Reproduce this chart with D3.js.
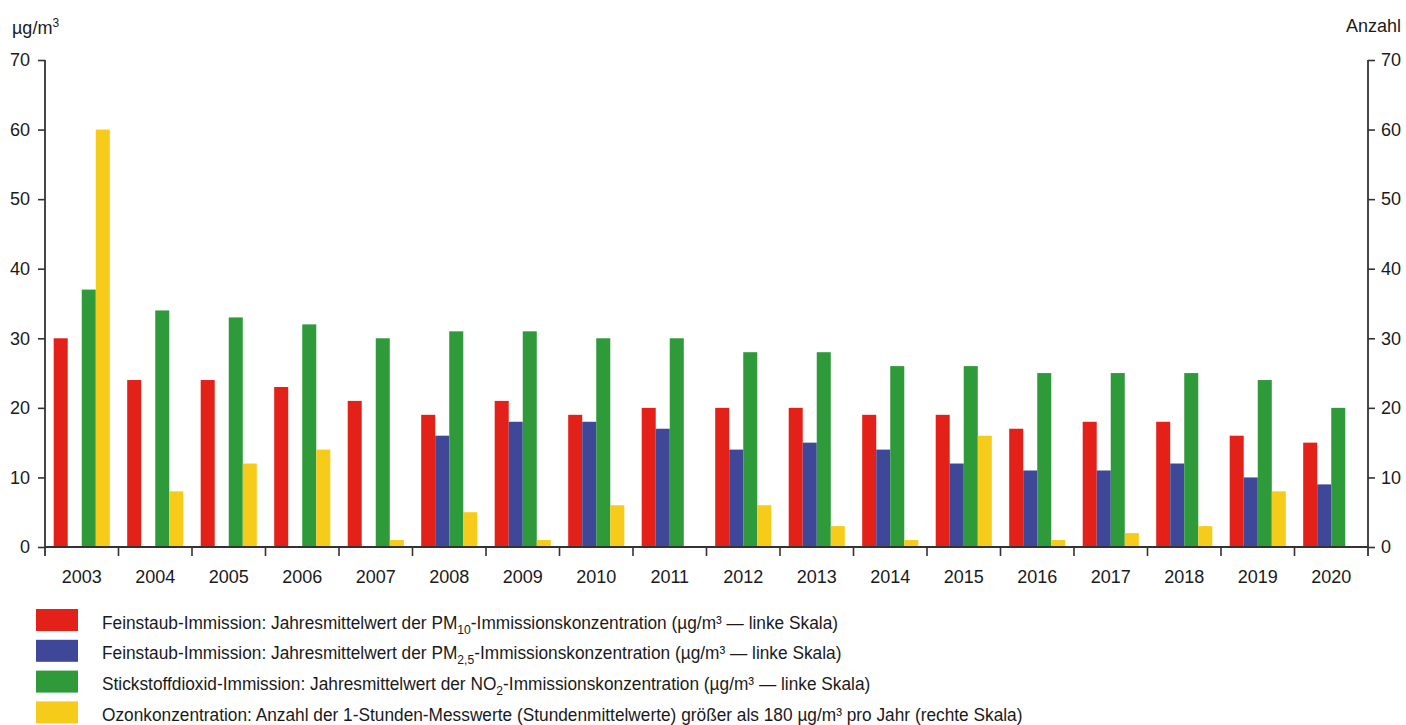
<!DOCTYPE html>
<html>
<head>
<meta charset="utf-8">
<style>
    body { margin: 0; background: #fff; }
    text { font-family: "Liberation Sans Narrow", "Arial Narrow", "Liberation Sans", Arial, sans-serif; fill: #1a1a1a; }
</style>
</head>
<body>
<svg id="container" width="1406" height="725"></svg>
<script src="https://cdn.jsdelivr.net/npm/d3@7"></script>
<script>
    // data
    let years = ["2003","2004","2005","2006","2007","2008","2009","2010","2011","2012","2013","2014","2015","2016","2017","2018","2019","2020"]
    let pm10  = [30, 24, 24, 23, 21, 19, 21, 19, 20, 20, 20, 19, 19, 17, 18, 18, 16, 15]
    let pm25  = [null, null, null, null, null, 16, 18, 18, 17, 14, 15, 14, 12, 11, 11, 12, 10, 9]
    let no2   = [37, 34, 33, 32, 30, 31, 31, 30, 30, 28, 28, 26, 26, 25, 25, 25, 24, 20]
    let ozone = [60, 8, 12, 14, 1, 5, 1, 6, 0, 6, 3, 1, 16, 1, 2, 3, 8, 0]
    let yTicks = [0, 10, 20, 30, 40, 50, 60, 70]

    let seriesKeys = ["pm10", "pm25", "no2", "ozone"]
    let seriesValues = { pm10: pm10, pm25: pm25, no2: no2, ozone: ozone }
    let colors = { pm10: "#e32119", pm25: "#3f4898", no2: "#2e9a3a", ozone: "#f7cb19" }

    let svg = d3.select("#container")
    let mLeft = 45, mRight = 1368, mTop = 60, mBottom = 547

    let x = d3.scaleBand().domain(years).range([mLeft, mRight]).padding(0)
    let xInner = d3.scaleBand().domain(seriesKeys).range([0, x.bandwidth()])
                    .paddingInner(0).paddingOuter(0.62)
    let yLeft = d3.scaleLinear().domain([0, 70]).range([mBottom, mTop])
    let yRight = d3.scaleLinear().domain([0, 70]).range([mBottom, mTop])  // Anzahl

    // bars
    let groups = svg.append("g").selectAll("g")
        .data(years)
        .enter().append("g")
        .attr("transform", d => "translate(" + x(d) + ",0)")

    groups.selectAll("rect")
        .data((d, i) => seriesKeys.map(k => ({ key: k, value: seriesValues[k][i] }))
                                  .filter(e => e.value != null && e.value > 0))
        .enter().append("rect")
        .attr("x", d => xInner(d.key))
        .attr("width", xInner.bandwidth())
        .attr("y", d => d.key === "ozone" ? yRight(d.value) : yLeft(d.value))
        .attr("height", d => mBottom - (d.key === "ozone" ? yRight(d.value) : yLeft(d.value)))
        .attr("fill", d => colors[d.key])

    let axisColor = "#333"
    let fontFam = '"Liberation Sans Narrow", "Arial Narrow", "Liberation Sans", Arial, sans-serif'

    // left axis
    let gl = svg.append("g").attr("transform", "translate(" + mLeft + ",0)")
        .call(d3.axisLeft(yLeft).tickValues(yTicks).tickSize(7).tickSizeOuter(0).tickPadding(8))
    // right axis
    let gr = svg.append("g").attr("transform", "translate(" + mRight + ",0)")
        .call(d3.axisRight(yRight).tickValues(yTicks).tickSize(7).tickSizeOuter(0).tickPadding(6))
    ;[gl, gr].forEach(g => {
        g.select(".domain").remove()
        g.selectAll("line").attr("stroke", axisColor).attr("stroke-width", 1.6)
        g.selectAll("text").style("font-size", "18px").attr("fill", "#1a1a1a").style("font-family", fontFam)
    })
    svg.append("line").attr("x1", mLeft).attr("x2", mLeft).attr("y1", mTop).attr("y2", mBottom + 9)
        .attr("stroke", axisColor).attr("stroke-width", 1.8)
    svg.append("line").attr("x1", mRight).attr("x2", mRight).attr("y1", mTop).attr("y2", mBottom + 9)
        .attr("stroke", axisColor).attr("stroke-width", 1.8)

    // bottom axis: baseline, boundary ticks, year labels
    svg.append("line").attr("x1", mLeft).attr("x2", mRight).attr("y1", mBottom).attr("y2", mBottom)
        .attr("stroke", axisColor).attr("stroke-width", 1.8)
    svg.append("g").selectAll("line")
        .data(years.slice(1))
        .enter().append("line")
        .attr("x1", d => x(d)).attr("x2", d => x(d))
        .attr("y1", mBottom).attr("y2", mBottom + 9)
        .attr("stroke", axisColor).attr("stroke-width", 1.6)
    svg.append("g").selectAll("text")
        .data(years)
        .enter().append("text")
        .attr("x", d => x(d) + x.bandwidth() / 2)
        .attr("y", mBottom + 36)
        .attr("text-anchor", "middle")
        .style("font-size", "18px")
        .text(d => d)

    // axis titles
    let t1 = svg.append("text").attr("x", 12).attr("y", 34).style("font-size", "18px")
    t1.append("tspan").text("µg/m")
    t1.append("tspan").attr("dy", -7).style("font-size", "12px").text("3")
    svg.append("text").attr("x", 1401).attr("y", 32).attr("text-anchor", "end")
        .style("font-size", "18px").text("Anzahl")

    // legend
    let legendItems = [
        { key: "pm10", parts: [["Feinstaub-Immission: Jahresmittelwert der PM", 0], ["10", 1], ["-Immissionskonzentration (µg/m³ — linke Skala)", 0]] },
        { key: "pm25", parts: [["Feinstaub-Immission: Jahresmittelwert der PM", 0], ["2,5", 1], ["-Immissionskonzentration (µg/m³ — linke Skala)", 0]] },
        { key: "no2", parts: [["Stickstoffdioxid-Immission: Jahresmittelwert der NO", 0], ["2", 1], ["-Immissionskonzentration (µg/m³ — linke Skala)", 0]] },
        { key: "ozone", parts: [["Ozonkonzentration: Anzahl der 1-Stunden-Messwerte (Stundenmittelwerte) größer als 180 µg/m³ pro Jahr (rechte Skala)", 0]] }
    ]
    let legend = svg.append("g").selectAll("g")
        .data(legendItems)
        .enter().append("g")
        .attr("transform", (d, i) => "translate(36," + (609 + i * 30.8) + ")")
    legend.append("rect").attr("width", 42).attr("height", 22).attr("fill", d => colors[d.key])
    // reference font is a condensed face, so squeeze the text a little
    let lt = legend.append("text").attr("transform", "translate(66,19.5) scale(0.935,1)")
        .style("font-size", "18.5px")
    lt.each(function (d) {
        let t = d3.select(this)
        d.parts.forEach((p, j) => {
            let sp = t.append("tspan").text(p[0])
            if (p[1] === 1) sp.attr("dy", 5).style("font-size", "13px")
            else if (j > 0) sp.attr("dy", -5)
        })
    })
</script>
</body>
</html>
